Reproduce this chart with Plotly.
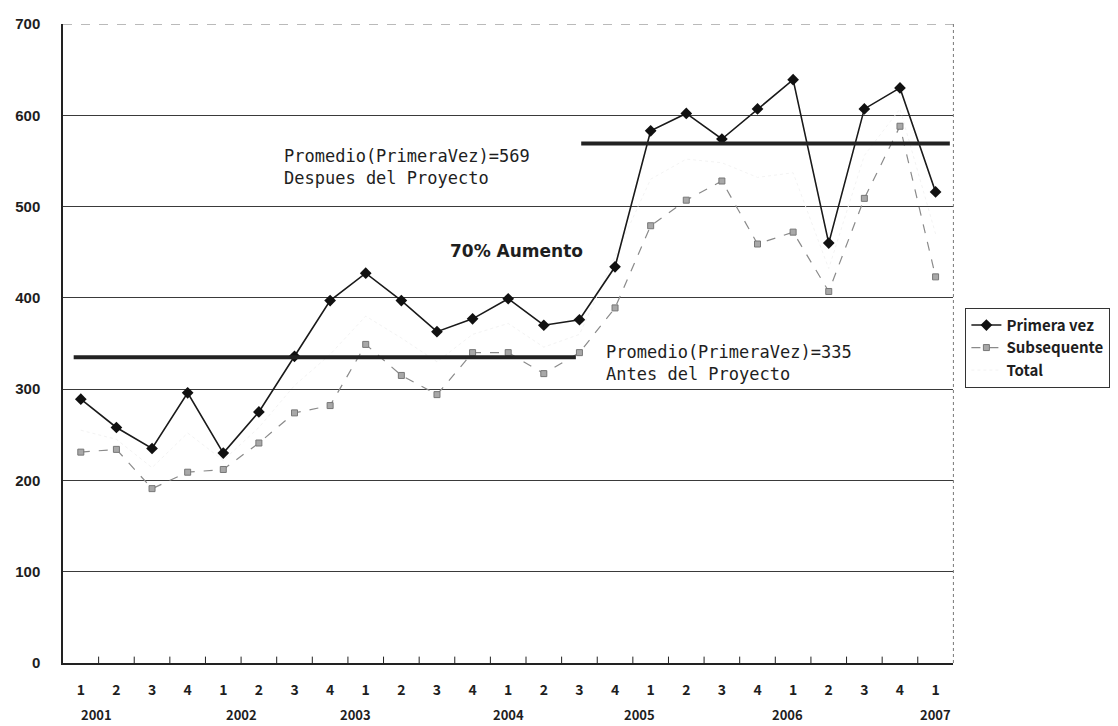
import plotly.graph_objects as go

# Quarterly series, 2001 Q1 through 2007 Q1
quarters = ["1", "2", "3", "4"] * 6 + ["1"]
years = ["2001", "2002", "2003", "2004", "2005", "2006", "2007"]
year_label_pos = [0.45, 4.5, 7.7, 12.0, 15.7, 19.85, 24.0]

primera_vez = [289, 258, 235, 296, 230, 275, 336, 397, 427, 397, 363, 377,
               399, 370, 376, 434, 583, 602, 574, 607, 639, 460, 607, 630, 516]
subsequente = [231, 234, 191, 209, 212, 241, 274, 282, 349, 315, 294, 340,
               340, 317, 340, 389, 479, 507, 528, 459, 472, 407, 509, 588, 423]
total = [255, 245, 214, 252, 222, 258, 304, 338, 380, 356, 330, 360,
         372, 346, 360, 445, 530, 552, 548, 532, 537, 432, 556, 607, 470]

avg_before = 335
avg_after = 569
avg_before_span = [-0.2, 13.9]
avg_after_span = [14.05, 24.4]

x = list(range(len(quarters)))
GOTHIC = "Noto Sans CJK JP"
MONO = "DejaVu Sans Mono"
SANS = "Liberation Sans"
INK = "#1e1e1e"

fig = go.Figure()

fig.add_trace(go.Scatter(
    x=x, y=total, name="Total", mode="lines",
    line=dict(color="#f3f3f3", width=1, dash="dot"),
))
fig.add_trace(go.Scatter(
    x=x, y=subsequente, name="Subsequente", mode="lines+markers",
    line=dict(color="#8a8a8a", width=1.2, dash="dash"),
    marker=dict(symbol="square", size=6, color="#a8a8a8",
                line=dict(color="#777777", width=1)),
))
fig.add_trace(go.Scatter(
    x=x, y=primera_vez, name="Primera vez", mode="lines+markers",
    line=dict(color="#1a1a1a", width=1.6),
    marker=dict(symbol="diamond", size=9, color="#111111"),
))

# Average reference bars
fig.add_trace(go.Scatter(
    x=avg_before_span, y=[avg_before, avg_before], mode="lines",
    line=dict(color="#222222", width=4), showlegend=False, hoverinfo="skip",
))
fig.add_trace(go.Scatter(
    x=avg_after_span, y=[avg_after, avg_after], mode="lines",
    line=dict(color="#222222", width=4), showlegend=False, hoverinfo="skip",
))

annotations = []
for yr, pos in zip(years, year_label_pos):
    annotations.append(dict(
        x=pos, y=-0.08, xref="x", yref="paper", text=yr, showarrow=False,
        xanchor="center", yanchor="middle",
        font=dict(family=GOTHIC, size=13, color=INK, weight=700),
    ))

annotations += [
    dict(x=5.65, y=555, xref="x", yref="y", xanchor="left", yanchor="middle",
         text="Promedio(PrimeraVez)=569", showarrow=False,
         font=dict(family=MONO, size=17, color=INK)),
    dict(x=5.65, y=531, xref="x", yref="y", xanchor="left", yanchor="middle",
         text="Despues del Proyecto", showarrow=False,
         font=dict(family=MONO, size=17, color=INK)),
    dict(x=10.3, y=451, xref="x", yref="y", xanchor="left", yanchor="middle",
         text="<b>70% Aumento</b>", showarrow=False,
         font=dict(family="DejaVu Sans", size=17, color=INK)),
    dict(x=14.7, y=341, xref="x", yref="y", xanchor="left", yanchor="middle",
         text="Promedio(PrimeraVez)=335", showarrow=False,
         font=dict(family=MONO, size=17, color=INK)),
    dict(x=14.7, y=317, xref="x", yref="y", xanchor="left", yanchor="middle",
         text="Antes del Proyecto", showarrow=False,
         font=dict(family=MONO, size=17, color=INK)),
]

fig.update_layout(
    width=1118, height=726,
    margin=dict(l=63, r=162, t=24, b=63),
    paper_bgcolor="white", plot_bgcolor="white",
    font=dict(family=GOTHIC, size=13, color=INK),
    annotations=annotations,
    legend=dict(
        xref="container", yref="container",
        x=0.8635, y=0.576, xanchor="left", yanchor="top",
        traceorder="reversed",
        bordercolor="#333333", borderwidth=1, bgcolor="white",
        font=dict(family=GOTHIC, size=15, color=INK, weight=700),
        itemwidth=30, tracegroupgap=0,
    ),
    xaxis=dict(
        type="linear", range=[-0.5, 24.5],
        tickmode="array", tickvals=x, ticktext=quarters,
        showgrid=False, zeroline=False,
        showline=True, linecolor="#222222", linewidth=1.5,
        ticks="", ticklabelstandoff=13,
        tickfont=dict(family=GOTHIC, size=14, color=INK, weight=700),
        mirror=False,
    ),
    yaxis=dict(
        range=[0, 700], tickmode="array", tickvals=list(range(0, 701, 100)),
        showgrid=True, gridcolor="#3a3a3a", gridwidth=1,
        zeroline=False, showline=True, linecolor="#222222", linewidth=1.5,
        ticks="", ticklabelstandoff=18,
        tickfont=dict(family=SANS, size=15, color=INK, weight=700),
    ),
    showlegend=True,
)

# Tick marks at the boundaries between quarters, pointing into the plot
shapes = []
for b in range(1, len(quarters)):
    shapes.append(dict(type="line", xref="x", yref="y",
                       x0=b - 0.5, x1=b - 0.5, y0=0, y1=7,
                       line=dict(color="#222222", width=1)))
# Top and right frame, dashed grey
shapes.append(dict(type="line", xref="paper", yref="y", x0=0, x1=1, y0=700, y1=700,
                   line=dict(color="#777777", width=1, dash="dash")))
shapes.append(dict(type="line", xref="paper", yref="paper", x0=1, x1=1, y0=0, y1=1,
                   line=dict(color="#777777", width=1, dash="dot")))
fig.update_layout(shapes=shapes)

fig.write_html("out.html")
